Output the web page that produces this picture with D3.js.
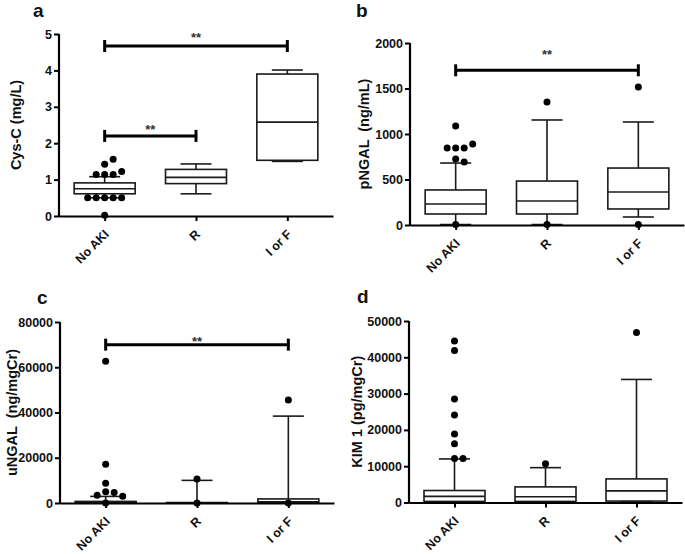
<!DOCTYPE html>
<html><head><meta charset="utf-8">
<script src="https://cdn.jsdelivr.net/npm/d3@7"></script>
<style>
body{margin:0;background:#fff;}
svg{display:block;}
text{font-family:"Liberation Sans",Arial,sans-serif;font-weight:bold;fill:#111;}
</style></head>
<body><svg id="chart" width="685" height="554"></svg>
<script>
// ---------- data ----------
const categories = ["No AKI", "R", "I or F"];

// Panel a: Cys-C (mg/L)
const aLow  = [0.50, 0.61, 1.50];
const aQ1   = [0.61, 0.89, 1.53];
const aMed  = [0.75, 1.06, 2.58];
const aQ3   = [0.91, 1.28, 3.90];
const aHigh = [1.08, 1.43, 4.01];
const aOutliers = [[1.14, 1.14, 1.14, 1.22, 1.42, 1.56, 0.5, 0.5, 0.5, 0.5, 0.5, 0.02], [], []];
const aTicks = [0, 1, 2, 3, 4, 5];
const aSigFrom = [0, 0], aSigTo = [2, 1], aSigValue = [4.67, 2.2], aSigLabelValue = [5.0, 2.48];

// Panel b: pNGAL (ng/mL)
const bLow  = [5, 5, 88];
const bQ1   = [121, 121, 176];
const bMed  = [231, 264, 362];
const bQ3   = [385, 483, 626];
const bHigh = [681, 1154, 1132];
const bOutliers = [[846, 846, 846, 890, 1088, 725, 692, 5], [1352, 5], [1516, 5]];
const bTicks = [0, 500, 1000, 1500, 2000];
const bSigFrom = [0], bSigTo = [2], bSigValue = [1700], bSigLabelValue = [1910];

// Panel c: uNGAL (ng/mgCr)
const cLow  = [100, 0, 0];
const cQ1   = [100, 50, 100];
const cMed  = [300, 100, 500];
const cQ3   = [700, 200, 1800];
const cHigh = [2900, 10000, 38400];
const cOutliers = [[62600, 17100, 8700, 5000, 4600, 3400, 3000, 0], [10600, 0], [45500, 0]];
const cTicks = [0, 20000, 40000, 60000, 80000];
const cSigFrom = [0], cSigTo = [2], cSigValue = [70000], cSigLabelValue = [72800];

// Panel d: KIM 1 (pg/mgCr)
const dLow  = [100, 100, 200];
const dQ1   = [300, 300, 400];
const dMed  = [1700, 1600, 3200];
const dQ3   = [3300, 4300, 6500];
const dHigh = [12000, 9600, 33900];
const dOutliers = [[12100, 12100, 16200, 18900, 24100, 28500, 41900, 44500], [10700], [46800]];
const dTicks = [0, 10000, 20000, 30000, 40000, 50000];
const dSigFrom = [], dSigTo = [], dSigValue = [], dSigLabelValue = [];

// ---------- layout ----------
const panels = [
  {letter:"a", lx:33, ly:17, label:"Cys-C (mg/L)", labX:21, x0:59, x1:333, yB:216, yT:34, max:5,
   low:aLow,q1:aQ1,med:aMed,q3:aQ3,high:aHigh,out:aOutliers,ticks:aTicks,
   sf:aSigFrom,st:aSigTo,sv:aSigValue,sl:aSigLabelValue},
  {letter:"b", lx:356, ly:17, label:"pNGAL  (ng/mL)", labX:369, x0:410, x1:684, yB:225, yT:43, max:2000,
   low:bLow,q1:bQ1,med:bMed,q3:bQ3,high:bHigh,out:bOutliers,ticks:bTicks,
   sf:bSigFrom,st:bSigTo,sv:bSigValue,sl:bSigLabelValue},
  {letter:"c", lx:37, ly:304, label:"uNGAL  (ng/mgCr)", labX:17, x0:60, x1:334, yB:503, yT:322, max:80000,
   low:cLow,q1:cQ1,med:cMed,q3:cQ3,high:cHigh,out:cOutliers,ticks:cTicks,
   sf:cSigFrom,st:cSigTo,sv:cSigValue,sl:cSigLabelValue},
  {letter:"d", lx:357, ly:303, label:"KIM 1 (pg/mgCr)", labX:362, x0:409, x1:682, yB:502.5, yT:321, max:50000,
   low:dLow,q1:dQ1,med:dMed,q3:dQ3,high:dHigh,out:dOutliers,ticks:dTicks,
   sf:dSigFrom,st:dSigTo,sv:dSigValue,sl:dSigLabelValue}
];

const svg = d3.select("#chart");
const boxW = 61, capW = 31, r = 3.5, stroke = "#1a1a1a";

panels.forEach(p => {
  const g = svg.append("g");
  const x = d3.scalePoint().domain(categories).range([p.x0, p.x1]).padding(0.5);
  const y = d3.scaleLinear().domain([0, p.max]).range([p.yB, p.yT]);

  g.append("text").attr("x", p.lx).attr("y", p.ly).style("font-size", "19px").text(p.letter);

  g.append("text")
    .attr("transform", `translate(${p.labX},${(p.yB + p.yT) / 2}) rotate(-90)`)
    .attr("text-anchor", "middle").style("font-size", "14.5px")
    .style("white-space", "pre").text(p.label);

  categories.forEach((c, i) => {
    const cx = x(c);
    const bg = g.append("g").attr("fill", "none").attr("stroke", stroke).attr("stroke-width", 1.6);
    bg.append("line").attr("x1", cx).attr("x2", cx).attr("y1", y(p.q3[i])).attr("y2", y(p.high[i]));
    bg.append("line").attr("x1", cx).attr("x2", cx).attr("y1", y(p.q1[i])).attr("y2", y(p.low[i]));
    bg.append("line").attr("x1", cx - capW / 2).attr("x2", cx + capW / 2).attr("y1", y(p.high[i])).attr("y2", y(p.high[i]));
    bg.append("line").attr("x1", cx - capW / 2).attr("x2", cx + capW / 2).attr("y1", y(p.low[i])).attr("y2", y(p.low[i]));
    bg.append("rect").attr("x", cx - boxW / 2).attr("width", boxW)
      .attr("y", y(p.q3[i])).attr("height", Math.max(0, y(p.q1[i]) - y(p.q3[i])));
    bg.append("line").attr("x1", cx - boxW / 2).attr("x2", cx + boxW / 2).attr("y1", y(p.med[i])).attr("y2", y(p.med[i]));
  });

  const ya = g.append("g").attr("transform", `translate(${p.x0},0)`)
    .call(d3.axisLeft(y).tickValues(p.ticks).tickSize(5).tickSizeOuter(0).tickPadding(2).tickFormat(d3.format("d")));
  const xa = g.append("g").attr("transform", `translate(0,${p.yB})`)
    .call(d3.axisBottom(x).tickSize(5).tickSizeOuter(0).tickFormat(""));
  [ya, xa].forEach(a => {
    a.select(".domain").attr("stroke", "#000").attr("stroke-width", 2.2);
    a.selectAll(".tick line").attr("stroke", "#000").attr("stroke-width", 2);
    a.selectAll("text").style("font-size", "12.5px").attr("fill", "#111")
      .style("font-family", "'Liberation Sans',Arial,sans-serif").style("font-weight", "bold");
  });
  ya.select(".domain").attr("d", `M0,${p.yB + 1}V${p.yT}`);

  categories.forEach(c => {
    g.append("text")
      .attr("transform", `translate(${x(c) + 5},${p.yB + 19}) rotate(-45)`)
      .attr("text-anchor", "end").style("font-size", "12.5px").text(c);
  });

  categories.forEach((c, i) => {
    const cx = x(c);
    const placed = [];
    p.out[i].forEach(v => {
      const py = y(v);
      let off = 0;
      for (let k = 0; k < 20; k++) {
        const cand = k === 0 ? 0 : (k % 2 ? 1 : -1) * Math.ceil(k / 2) * 8.5;
        if (placed.every(q => Math.hypot(q[0] - cand, q[1] - py) >= 7.2)) { off = cand; break; }
      }
      placed.push([off, py]);
      g.append("circle").attr("cx", cx + off).attr("cy", py).attr("r", r).attr("fill", "#000");
    });
  });

  p.sf.forEach((f, k) => {
    const xa1 = x(categories[f]), xa2 = x(categories[p.st[k]]), yy = y(p.sv[k]);
    const sg = g.append("g").attr("stroke", "#000").attr("stroke-width", 3);
    sg.append("line").attr("x1", xa1).attr("x2", xa2).attr("y1", yy).attr("y2", yy);
    sg.append("line").attr("x1", xa1).attr("x2", xa1).attr("y1", yy - 6).attr("y2", yy + 6);
    sg.append("line").attr("x1", xa2).attr("x2", xa2).attr("y1", yy - 6).attr("y2", yy + 6);
    g.append("text").attr("x", (xa1 + xa2) / 2).attr("y", y(p.sl[k]) + 8)
      .attr("text-anchor", "middle").style("font-size", "13px").style("fill", "#333").text("**");
  });
});
</script></body></html>
